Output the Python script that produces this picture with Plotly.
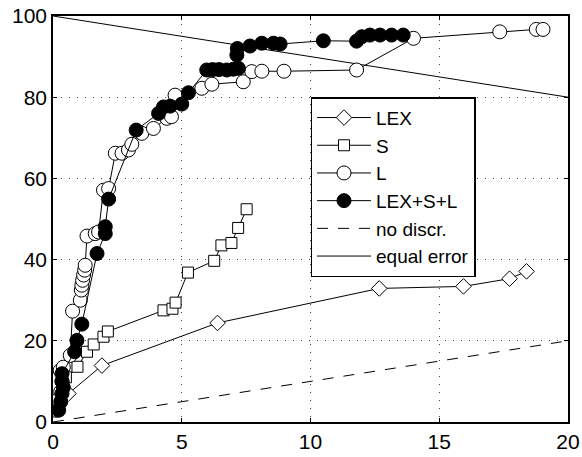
import plotly.graph_objects as go

lex_x = [0.3, 0.6, 1.9, 6.39, 12.67, 15.94, 17.73, 18.39]
lex_y = [5.5, 7.0, 13.9, 24.4, 32.9, 33.4, 35.3, 37.1]

s_x = [0.2, 0.5, 0.95, 1.32, 1.58, 1.96, 2.13, 4.29, 4.64, 4.76, 5.24, 6.26, 6.54, 6.93, 7.19, 7.52]
s_y = [4.0, 11.0, 13.6, 17.3, 19.1, 21.0, 22.3, 27.5, 27.9, 29.4, 36.8, 39.7, 43.5, 44.1, 47.8, 52.4]

l_x = [0.09, 0.2, 0.3, 0.35, 0.28, 0.4, 0.67, 0.76, 1.06, 1.1, 1.12, 1.15, 1.19, 1.23, 1.25,
       1.32, 1.64, 1.77, 1.96, 2.16, 2.42, 2.68, 2.93, 3.06, 3.45, 3.9, 4.42, 4.6, 4.74,
       5.78, 6.17, 7.39, 7.72, 8.11, 8.97, 11.79, 14.0, 17.35, 18.77, 19.03]
l_y = [2.9, 5.5, 7.5, 10.0, 12.7, 13.5, 16.4, 27.3, 30.0, 32.5, 33.7, 34.9, 36.2, 37.4, 38.6,
       45.8, 46.4, 46.8, 57.1, 57.5, 66.2, 66.2, 67.0, 68.4, 71.1, 72.3, 74.8, 75.2, 80.5,
       82.2, 83.2, 83.8, 86.3, 86.4, 86.4, 86.7, 94.5, 96.1, 96.7, 96.7]

all_x = [0.22, 0.3, 0.35, 0.4, 0.35, 0.35, 0.84, 0.93, 1.12, 1.71, 2.03, 2.03, 2.16, 3.23,
         4.1, 4.29, 4.55, 5.0, 5.26, 5.97, 6.2, 6.45, 6.75, 7.0, 7.2, 7.14, 7.16, 7.65,
         8.11, 8.56, 8.82, 10.5, 11.79, 11.99, 12.31, 12.7, 13.15, 13.6]
all_y = [2.9, 5.0, 7.0, 8.5, 10.0, 11.9, 17.3, 20.1, 24.1, 41.5, 46.4, 48.1, 54.9, 71.9,
         76.0, 77.6, 77.8, 78.3, 81.1, 86.7, 86.8, 86.8, 86.7, 86.9, 87.1, 90.4, 92.0, 92.6,
         93.3, 93.3, 93.1, 93.9, 93.8, 94.9, 95.3, 95.3, 95.3, 95.3]

nodisc_x = [0, 20]
nodisc_y = [0, 20]
equal_x = [0, 20]
equal_y = [100, 80]

FONT = "Liberation Sans, Arial, sans-serif"

fig = go.Figure()
fig.add_trace(go.Scatter(x=nodisc_x, y=nodisc_y, mode="lines", name="no discr.",
                         line=dict(color="black", width=1, dash="11px,10px"), legendrank=5))
fig.add_trace(go.Scatter(x=equal_x, y=equal_y, mode="lines", name="equal error",
                         line=dict(color="black", width=1), legendrank=6))
fig.add_trace(go.Scatter(x=lex_x, y=lex_y, mode="lines+markers", name="LEX",
                         line=dict(color="black", width=1),
                         marker=dict(symbol="diamond", size=12, color="white",
                                     line=dict(color="black", width=1)), legendrank=1))
fig.add_trace(go.Scatter(x=s_x, y=s_y, mode="lines+markers", name="S",
                         line=dict(color="black", width=1),
                         marker=dict(symbol="square", size=11, color="white",
                                     line=dict(color="black", width=1)), legendrank=2))
fig.add_trace(go.Scatter(x=l_x, y=l_y, mode="lines+markers", name="L",
                         line=dict(color="black", width=1),
                         marker=dict(symbol="circle", size=14, color="white",
                                     line=dict(color="black", width=1)), legendrank=3))
fig.add_trace(go.Scatter(x=all_x, y=all_y, mode="lines+markers", name="LEX+S+L",
                         line=dict(color="black", width=1),
                         marker=dict(symbol="circle", size=14, color="black",
                                     line=dict(color="black", width=1)), legendrank=4))

axis_common = dict(showline=True, linecolor="black", linewidth=1.5, mirror="ticks",
                   ticks="inside", ticklen=4, tickcolor="black", automargin=False,
                   ticklabeloverflow="allow",
                   showgrid=True, gridcolor="#444444", gridwidth=1, griddash="1px,7px",
                   zeroline=False, tickfont=dict(family=FONT, size=21, color="black"))

fig.update_xaxes(range=[0, 20], tickvals=[0, 5, 10, 15, 20], **axis_common)
fig.update_yaxes(range=[0, 100], tickvals=[0, 20, 40, 60, 80, 100], **axis_common)

fig.update_layout(
    width=582, height=457,
    margin=dict(l=53, r=14, t=16, b=35),
    paper_bgcolor="white", plot_bgcolor="white",
    font=dict(family=FONT, size=21, color="black"),
    showlegend=True,
    legend=dict(x=0.5, y=0.8, xanchor="left", yanchor="top",
                bgcolor="white", bordercolor="black", borderwidth=1.5,
                font=dict(family=FONT, size=19, color="black"),
                tracegroupgap=0, itemwidth=54),
)

# remove the default 8px page margin so the figure fills the window exactly
fig.write_html("out.html", config={"displayModeBar": False},
               post_script="document.body.style.margin='0';")
